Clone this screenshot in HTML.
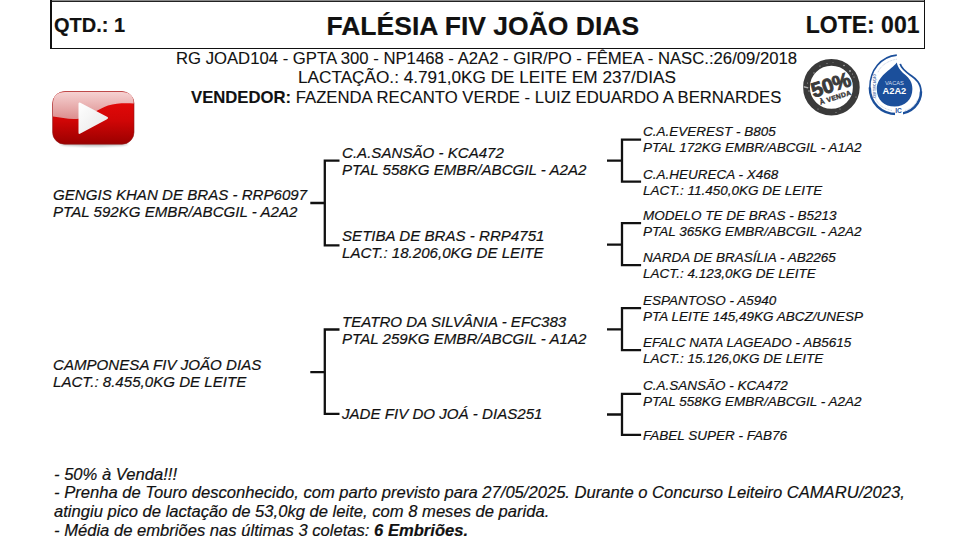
<!DOCTYPE html>
<html><head><meta charset="utf-8">
<style>
html,body{margin:0;padding:0;background:#fff;}
body{width:956px;height:555px;position:relative;overflow:hidden;font-family:"Liberation Sans",sans-serif;color:#111;}
.t{position:absolute;white-space:nowrap;line-height:20px;-webkit-text-stroke:0.18px #111;}
.b{font-weight:bold;}
.i{font-style:italic;}
.p1{font-size:15.1px;font-style:italic;}
.p3{font-size:13.5px;font-style:italic;}
.hd{font-size:16.6px;-webkit-text-stroke:0.12px #111;}
.nt{font-size:16.6px;font-style:italic;}
.ln{position:absolute;background:#111;}
#box{position:absolute;left:50px;top:0px;width:875px;height:49px;}
</style></head><body>
<div id="box"></div>
<div class="ln" style="left:50px;top:0;width:875px;height:1px;background:#8a8a8a;"></div>
<div class="ln" style="left:50px;top:1px;width:875px;height:1px;background:#222;"></div>
<div class="ln" style="left:50px;top:0;width:2px;height:49px;background:#111;"></div>
<div class="ln" style="left:924px;top:0;width:1px;height:49px;background:#111;"></div>
<div class="ln" style="left:50px;top:48px;width:875px;height:1px;background:#111;"></div>
<div class="t b" style="left:54px;top:15px;font-size:20px;">QTD.: 1</div>
<div class="t b" style="left:326.5px;top:16px;font-size:26.5px;">FALÉSIA FIV JOÃO DIAS</div>
<div class="t b" style="right:36.5px;top:15px;font-size:23px;">LOTE: 001</div>

<div class="t hd" style="left:176px;top:49px;font-size:16.7px;">RG JOAD104 - GPTA 300 - NP1468 - A2A2 - GIR/PO - FÊMEA - NASC.:26/09/2018</div>
<div class="t hd" style="left:298px;top:67px;font-size:17.2px;">LACTAÇÃO.: 4.791,0KG DE LEITE EM 237/DIAS</div>
<div class="t hd" style="left:191px;top:87.5px;font-size:16.7px;"><b>VENDEDOR:</b> FAZENDA RECANTO VERDE - LUIZ EDUARDO A BERNARDES</div>

<!-- col1 -->
<div class="t p1" style="left:53px;top:185px;">GENGIS KHAN DE BRAS - RRP6097</div>
<div class="t p1" style="left:53px;top:202px;">PTAL 592KG EMBR/ABCGIL - A2A2</div>
<div class="t p1" style="left:53px;top:355px;">CAMPONESA FIV JOÃO DIAS</div>
<div class="t p1" style="left:53px;top:372px;">LACT.: 8.455,0KG DE LEITE</div>

<!-- col2 -->
<div class="t p1" style="left:342px;top:143px;">C.A.SANSÃO - KCA472</div>
<div class="t p1" style="left:342px;top:160px;">PTAL 558KG EMBR/ABCGIL - A2A2</div>
<div class="t p1" style="left:342px;top:226px;">SETIBA DE BRAS - RRP4751</div>
<div class="t p1" style="left:342px;top:243px;">LACT.: 18.206,0KG DE LEITE</div>
<div class="t p1" style="left:342px;top:312px;">TEATRO DA SILVÂNIA - EFC383</div>
<div class="t p1" style="left:342px;top:329px;">PTAL 259KG EMBR/ABCGIL - A1A2</div>
<div class="t p1" style="left:342px;top:404px;">JADE FIV DO JOÁ - DIAS251</div>

<!-- col3 -->
<div class="t p3" style="left:643px;top:122px;">C.A.EVEREST - B805</div>
<div class="t p3" style="left:643px;top:138px;">PTAL 172KG EMBR/ABCGIL - A1A2</div>
<div class="t p3" style="left:643px;top:165px;">C.A.HEURECA - X468</div>
<div class="t p3" style="left:643px;top:181px;">LACT.: 11.450,0KG DE LEITE</div>
<div class="t p3" style="left:643px;top:206px;">MODELO TE DE BRAS - B5213</div>
<div class="t p3" style="left:643px;top:222px;">PTAL 365KG EMBR/ABCGIL - A2A2</div>
<div class="t p3" style="left:643px;top:248px;">NARDA DE BRASÍLIA - AB2265</div>
<div class="t p3" style="left:643px;top:264px;">LACT.: 4.123,0KG DE LEITE</div>
<div class="t p3" style="left:643px;top:291px;">ESPANTOSO - A5940</div>
<div class="t p3" style="left:643px;top:307px;">PTA LEITE 145,49KG ABCZ/UNESP</div>
<div class="t p3" style="left:643px;top:333px;">EFALC NATA LAGEADO - AB5615</div>
<div class="t p3" style="left:643px;top:349px;">LACT.: 15.126,0KG DE LEITE</div>
<div class="t p3" style="left:643px;top:376px;">C.A.SANSÃO - KCA472</div>
<div class="t p3" style="left:643px;top:392px;">PTAL 558KG EMBR/ABCGIL - A2A2</div>
<div class="t p3" style="left:643px;top:426px;">FABEL SUPER - FAB76</div>

<!-- brackets -->
<svg style="position:absolute;left:0;top:0;" width="956" height="555" viewBox="0 0 956 555"><g fill="none" stroke="#111" stroke-width="2.3" stroke-linejoin="miter">
<path d="M339.5 160.7 L324.8 160.7 L324.8 245.4 L339.5 245.4 M310.3 203 L324.8 203"/>
<path d="M339.5 329.5 L324.8 329.5 L324.8 413.9 L339.5 413.9 M310.3 372.2 L324.8 372.2"/>
<path d="M641.1 139.6 L622 139.6 L622 181.7 L641.1 181.7 M607 160.6 L622 160.6"/>
<path d="M641.1 223.1 L622 223.1 L622 265.2 L641.1 265.2 M607 244.6 L622 244.6"/>
<path d="M641.1 308.1 L622 308.1 L622 350.2 L641.1 350.2 M607 329.4 L622 329.4"/>
<path d="M641.1 393.8 L622 393.8 L622 434.9 L641.1 434.9 M607 414.5 L622 414.5"/>
</g></svg>

<!-- notes -->
<div class="t nt" style="left:54px;top:465px;">- 50% à Venda!!!</div>
<div class="t nt" style="left:54px;top:483px;">- Prenha de Touro desconhecido, com parto previsto para 27/05/2025. Durante o Concurso Leiteiro CAMARU/2023,</div>
<div class="t nt" style="left:54px;top:502px;">atingiu pico de lactação de 53,0kg de leite, com 8 meses de parida.</div>
<div class="t nt" style="left:54px;top:521px;">- Média de embriões nas últimas 3 coletas: <b>6 Embriões.</b></div>

<!-- youtube icon -->
<svg style="position:absolute;left:50px;top:89px;" width="88" height="60" viewBox="0 0 88 60">
<defs>
<linearGradient id="yr" x1="0" y1="0" x2="0" y2="1">
<stop offset="0" stop-color="#ec0a0a"/><stop offset="0.55" stop-color="#d00606"/><stop offset="1" stop-color="#9a0000"/>
</linearGradient>
<linearGradient id="yg" x1="0" y1="0" x2="0" y2="1">
<stop offset="0" stop-color="#f6d2d2"/><stop offset="1" stop-color="#dc8e8e"/>
</linearGradient>
<linearGradient id="yt" x1="0" y1="0" x2="1" y2="1">
<stop offset="0" stop-color="#ffffff"/><stop offset="1" stop-color="#e6e6e6"/>
</linearGradient>
<filter id="ysh" x="-10%" y="-10%" width="120%" height="130%"><feGaussianBlur stdDeviation="1"/></filter>
</defs>
<ellipse cx="44" cy="55" rx="34" ry="2.5" fill="#000" opacity="0.25" filter="url(#ysh)"/>
<rect x="2.6" y="2.6" width="81.4" height="52.6" rx="12" fill="url(#yr)" stroke="#8e1a1a" stroke-width="0.6"/>
<path d="M3 27.6 C12 29 22 31 30 29.5 C40 27 48 20 58 16.5 C66 14 76 14 83.7 14.5 L83.7 14.5 Q83.7 2.9 72 2.9 L15 2.9 Q3 2.9 3 14.5 Z" fill="url(#yg)"/>
<path d="M28.5 15.2 Q28.2 12.6 30.4 13.8 L57 27.8 Q59.2 29 57 30.3 L30.4 44.6 Q28.2 45.8 28.5 43.2 Z" fill="url(#yt)"/>
</svg>

<!-- 50% stamp -->
<svg style="position:absolute;left:800px;top:57px;" width="64" height="62" viewBox="0 0 64 62">
<circle cx="31.4" cy="30.2" r="24.9" fill="none" stroke="#3a3a3a" stroke-width="6.8"/>
<g fill="#fff" opacity="0.6">
<circle cx="14" cy="16" r="0.7"/><circle cx="20" cy="9" r="0.6"/><circle cx="44" cy="8.5" r="0.8"/><circle cx="50" cy="14" r="0.9"/>
<circle cx="54" cy="20" r="0.6"/><circle cx="9" cy="34" r="0.7"/><circle cx="56" cy="40" r="0.6"/><circle cx="40" cy="52" r="0.6"/>
<circle cx="27" cy="6.5" r="0.5"/><circle cx="7.5" cy="26" r="0.5"/><circle cx="33" cy="5.5" r="0.4"/><circle cx="52.5" cy="17" r="0.5"/>
<path d="M3.8 29 L8.5 30.2 L8 31.4 L3.6 30.6 Z"/>
<circle cx="36" cy="55.5" r="0.5"/><circle cx="18" cy="52" r="0.5"/>
</g>
<g transform="rotate(-18 31.4 30.2)">
<text x="31.5" y="34.8" text-anchor="middle" font-family="Liberation Sans" font-weight="bold" font-size="20.5" fill="#3a3a3a" stroke="#3a3a3a" stroke-width="0.9" letter-spacing="-0.3">50%</text>
<text x="32" y="43.5" text-anchor="middle" font-family="Liberation Sans" font-weight="bold" font-size="6.8" fill="#3a3a3a" stroke="#3a3a3a" stroke-width="0.4" letter-spacing="0.3">À VENDA</text>
</g>
</svg>

<!-- A2A2 badge -->
<svg style="position:absolute;left:866px;top:52px;" width="60" height="66" viewBox="0 0 60 66">
<g fill="none" stroke="#1b4f9b">
<path d="M30.8 3.1 C15 4.5 3.8 18 3.8 36" stroke-width="1.6"/>
<path d="M3.8 35.5 C3.8 51 15.5 62 30.5 62" stroke-width="2.4"/>
<path d="M30.5 62 C46 62 55 51 55 39.5" stroke-width="2.5"/>
<path d="M55 40 C55 31 50 27 45 23.5 C40 20 35.5 17 34.2 11.9" stroke-width="1.8"/>
</g>
<path d="M30.8 10.4 C25 18 10.8 24 10.8 37 C10.8 48 18.5 54.6 28.7 54.6 C38.8 54.6 46.4 47.5 46.4 37 C46.4 30 43 26 39.5 23 C35.5 19.5 31.8 16 30.8 10.4 Z" fill="#1b4f9b"/>
<g fill="none" stroke="#9fb2d2" stroke-width="0.6" stroke-dasharray="0.9 0.7">
<path d="M30.8 7.2 C22 8.5 14 14 11.9 20.7"/>
<path d="M9.5 46 C12 53 18 57 26 58.5"/>
<path d="M39 58.5 C45 57 49.5 53 51.5 47"/>
</g>
<text transform="translate(10 46) rotate(-90)" font-family="Liberation Sans" font-weight="bold" font-size="3" fill="#4a6aa4" letter-spacing="0.1">CERTIFICAÇÃO</text>
<text x="28.4" y="33.4" text-anchor="middle" font-family="Liberation Sans" font-size="5.7" fill="#d3dcec">VACAS</text>
<text x="28.4" y="41.6" text-anchor="middle" font-family="Liberation Sans" font-weight="bold" font-size="9.3" fill="#fff">A2A2</text>
<rect x="29" y="55.5" width="8" height="9" fill="#fff"/>
<text x="32.5" y="60.6" text-anchor="middle" font-family="Liberation Sans" font-weight="bold" font-size="6.6" fill="#1b4f9b">IC</text>
</svg>
</body></html>
